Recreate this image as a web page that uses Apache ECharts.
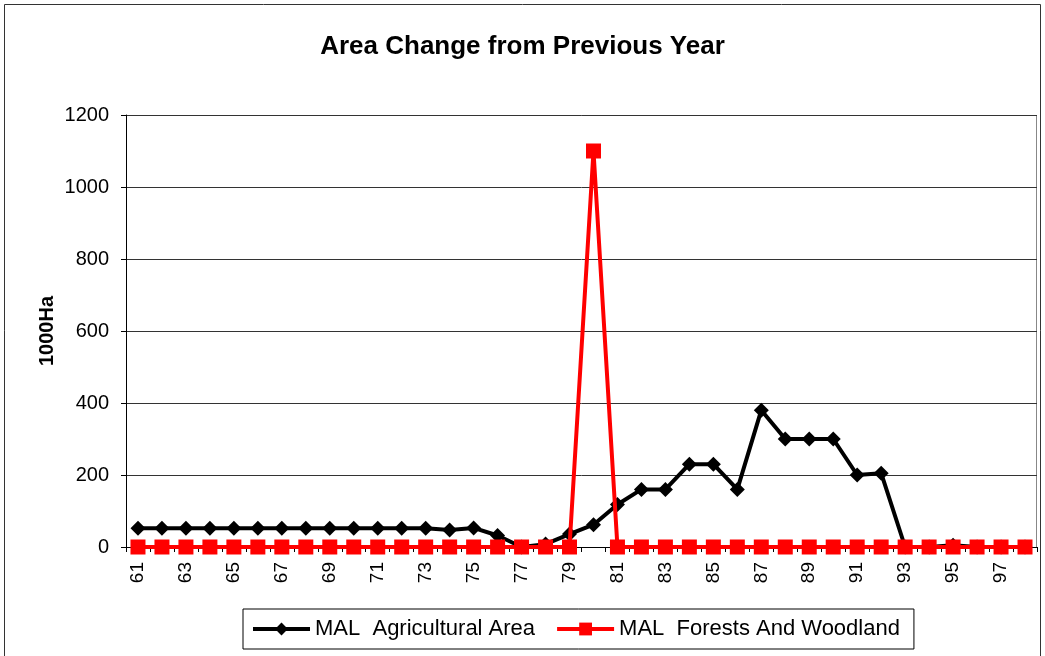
<!DOCTYPE html>
<html>
<head>
<meta charset="utf-8">
<script src="https://cdn.jsdelivr.net/npm/echarts@6/dist/echarts.min.js"></script>
<style>html,body{margin:0;padding:0;background:#fff}#c{width:1045px;height:656px}</style>
</head>
<body>
<div id="c"></div>
<script>
const years = ['61','62','63','64','65','66','67','68','69','70','71','72','73','74','75','76','77','78','79','80','81','82','83','84','85','86','87','88','89','90','91','92','93','94','95','96','97','98'];
const agricultural = [52,52,52,52,52,52,52,52,52,52,52,52,52,47,53,32,0,8,36,62,118,160,160,230,230,160,380,300,300,300,200,205,0,0,5,0,0,0];
const forests = [0,0,0,0,0,0,0,0,0,0,0,0,0,0,0,0,0,0,0,1100,0,0,0,0,0,0,0,0,0,0,0,0,0,0,0,0,0,0];
const yTicks = {min:0, max:1200, interval:200};

const chart = echarts.init(document.getElementById('c'), null, {renderer:'canvas'});
const font = 'Arial, "Liberation Sans", sans-serif';
chart.setOption({
  animation:false,
  backgroundColor:'#fff',
  graphic:[{type:'rect', shape:{x:4.5,y:4.5,width:1036,height:660}, style:{fill:'none', stroke:'#333', lineWidth:1}, z:-1},
           {type:'rect', shape:{x:126.5,y:115.5,width:910,height:432}, style:{fill:'none', stroke:'#888', lineWidth:1}, z:-1}],
  title:{text:'Area Change from Previous Year', left:'center', top:29,
    textStyle:{fontFamily:font, fontSize:26, fontWeight:'bold', color:'#000'}},
  grid:{left:126, right:8, top:115, bottom:109, containLabel:false},
  legend:{left:243, top:609, padding:[9,14,9,8], itemGap:20,
    borderColor:'#000', borderWidth:1, itemWidth:57, itemHeight:16,
    lineStyle:{width:4},
    textStyle:{fontFamily:font, fontSize:22, color:'#000'},
    data:['MAL  Agricultural Area','MAL  Forests And Woodland']},
  xAxis:{type:'category', data:years, boundaryGap:true,
    axisLine:{lineStyle:{color:'#000', width:1}},
    axisTick:{show:true, interval:0, length:5, inside:false, lineStyle:{color:'#000'}},
    axisLabel:{interval:1, rotate:90, margin:15, fontFamily:font, fontSize:19, color:'#000'}},
  yAxis:{type:'value', min:yTicks.min, max:yTicks.max, interval:yTicks.interval,
    name:'1000Ha', nameLocation:'middle', nameGap:69, nameRotate:90, nameMoveOverlap:false,
    nameTextStyle:{fontFamily:font, fontSize:20, fontWeight:'bold', color:'#000'},
    axisLine:{show:true, lineStyle:{color:'#000'}},
    axisTick:{show:true, length:5, lineStyle:{color:'#000'}},
    axisLabel:{margin:17, fontFamily:font, fontSize:20, color:'#000', formatter:v => String(v)},
    splitLine:{show:true, lineStyle:{color:'#333', width:1}}},
  series:[
    {name:'MAL  Agricultural Area', type:'line', data:agricultural, symbol:'diamond', symbolSize:15,
      lineStyle:{color:'#000', width:4}, itemStyle:{color:'#000'}, z:2},
    {name:'MAL  Forests And Woodland', type:'line', data:forests, symbol:'rect', symbolSize:15,
      lineStyle:{color:'#ff0000', width:4}, itemStyle:{color:'#ff0000'}, z:3}
  ]
});
</script>
</body>
</html>
